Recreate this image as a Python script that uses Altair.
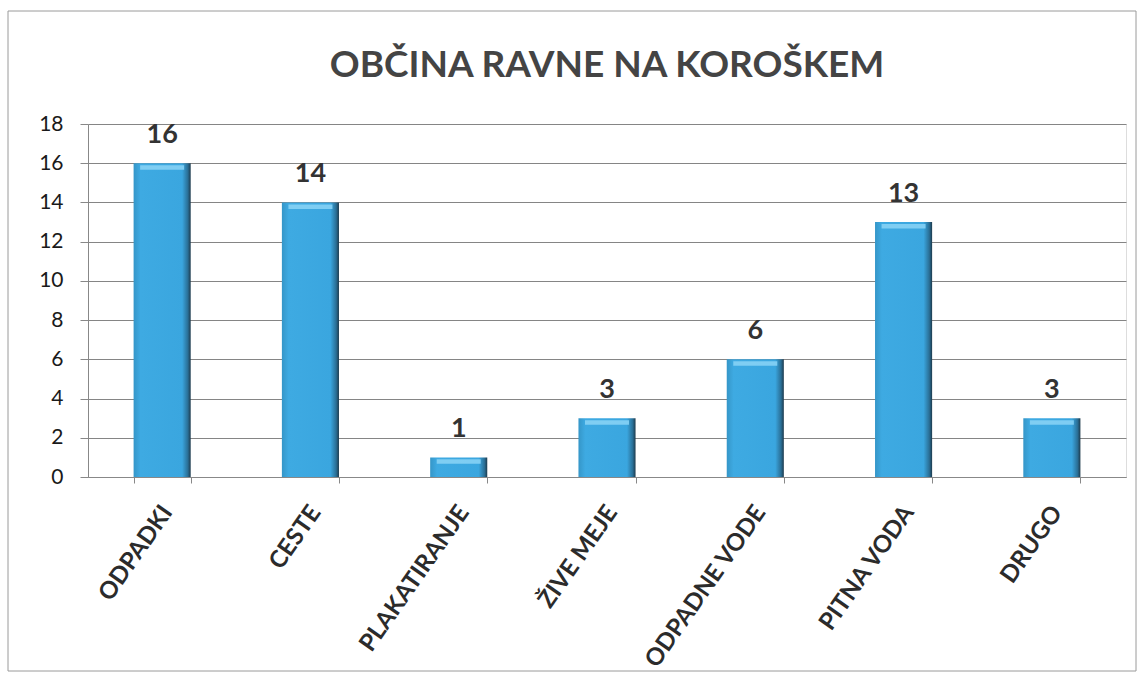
import altair as alt
import pandas as pd

categories = ["ODPADKI", "CESTE", "PLAKATIRANJE", "ŽIVE MEJE", "ODPADNE VODE", "PITNA VODA", "DRUGO"]
values = [16, 14, 1, 3, 6, 13, 3]
y_ticks = [0, 2, 4, 6, 8, 10, 12, 14, 16, 18]
title_text = "OBČINA RAVNE NA KOROŠKEM"

df = pd.DataFrame({"cat": categories, "val": values})
frame_df = pd.DataFrame({"k": [0]})

W, H = 1038, 353

x_enc = alt.X("cat:N", sort=categories, title=None,
              scale=alt.Scale(paddingInner=0.615, paddingOuter=0.3075),
              axis=alt.Axis(labelAngle=-55, labelAlign="right", labelBaseline="middle",
                            labelFont="Lato", labelFontWeight="bold", labelFontSize=24,
                            labelColor="#2b2b2b", labelPadding=25, labelOffset=5,
                            labelLimit=400,
                            tickBand="extent", tickSize=6, tickColor="#888888",
                            domainColor="#888888", grid=False))
y_scale = alt.Scale(domain=[0, 18], nice=False)
y_axis = alt.Axis(values=y_ticks, labelFont="Lato", labelFontSize=21,
                  labelColor="#1a1a1a", tickSize=8, tickColor="#888888",
                  domainColor="#888888", gridColor="#858585", gridWidth=1,
                  labelPadding=17, labelOverlap=False)
y_enc = alt.Y("val:Q", title=None, scale=y_scale, axis=y_axis)

grad = alt.Gradient(
    gradient="linear", x1=0, x2=1, y1=0, y2=0,
    stops=[alt.GradientStop(color="#3596c8", offset=0),
           alt.GradientStop(color="#3eaae2", offset=0.12),
           alt.GradientStop(color="#3aa6df", offset=0.85),
           alt.GradientStop(color="#2a6f96", offset=0.95),
           alt.GradientStop(color="#1d3a4c", offset=1)])

bars = alt.Chart(df).mark_bar(color=grad).encode(x=x_enc, y=y_enc)

# top bevel highlight of each bar
hl = alt.Chart(df).transform_calculate(
    top="datum.val - 0.1", bot="datum.val - 0.33"
).mark_bar(color="#86d2f5", size=44, opacity=0.9).encode(
    x=x_enc, y=alt.Y("top:Q", title=None, scale=y_scale, axis=y_axis),
    y2="bot:Q")

labels = alt.Chart(df).mark_text(font="Lato", fontWeight="bold", fontSize=27,
                                 color="#333333", dy=-28).encode(
    x=x_enc, y=y_enc, text="val:Q")

frame = alt.Chart(frame_df).mark_rect(filled=False, stroke="#9a9a9a", strokeWidth=1).encode(
    x=alt.value(-80), x2=alt.value(1048), y=alt.value(-113), y2=alt.value(547))

chart = alt.layer(frame, bars, hl, labels).properties(
    width=W, height=H,
    title=alt.TitleParams(title_text, font="Lato", fontSize=37, fontWeight="bold",
                          color="#444444", anchor="middle", offset=-74),
    autosize=alt.AutoSizeParams(type="none"),
    padding={"left": 88, "top": 124, "right": 15, "bottom": 198},
).configure_view(stroke=None).configure(background="white")

chart.save("out.html", embed_options={"renderer": "svg", "actions": False})
